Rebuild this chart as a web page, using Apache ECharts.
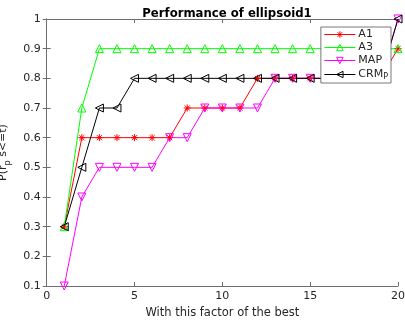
<!DOCTYPE html>
<html><head><meta charset="utf-8">
<script src="https://cdn.jsdelivr.net/npm/echarts@6/dist/echarts.min.js"></script>
<style>html,body{margin:0;padding:0;background:#fff}#c{width:405px;height:324px}</style>
</head><body><div id="c"></div>
<script>
const xs = [1,2,3,4,5,6,7,8,9,10,11,12,13,14,15,16,17,18,19,20];
const A1  = [0.3,0.6,0.6,0.6,0.6,0.6,0.6,0.7,0.7,0.7,0.7,0.8,0.8,0.8,0.8,0.8,0.8,0.8,0.8,0.9];
const A3  = [0.3,0.7,0.9,0.9,0.9,0.9,0.9,0.9,0.9,0.9,0.9,0.9,0.9,0.9,0.9,0.9,0.9,0.9,0.9,0.9];
const MAP = [0.1,0.4,0.5,0.5,0.5,0.5,0.6,0.6,0.7,0.7,0.7,0.7,0.8,0.8,0.8,0.8,0.8,0.8,0.8,1.0];
const CRM = [0.3,0.5,0.7,0.7,0.8,0.8,0.8,0.8,0.8,0.8,0.8,0.8,0.8,0.8,0.8,0.8,0.8,0.8,0.8,1.0];
const xTicks = [0,5,10,15,20];
const yTicks = [0.1,0.2,0.3,0.4,0.5,0.6,0.7,0.8,0.9,1];
const seriesNames = ['A1','A3','MAP','CRM_p'];

const font = 'DejaVu Sans';
const axisCol = '#6e6e6e';
const txtCol = '#262626';
const pair = arr => xs.map((x,i)=>[x,arr[i]]);
const star = 'path://M0,-1L0,1M-1,0L1,0M-0.72,-0.72L0.72,0.72M-0.72,0.72L0.72,-0.72';
const colors = {A1:'#ff0000', A3:'#00ff00', MAP:'#ff00ff', CRM_p:'#000000'};
const syms = {A1:[star,0,7], A3:['triangle',0,8], MAP:['triangle',180,8], CRM_p:['triangle',90,8]};

function mk(name, arr) {
  const color = colors[name], s = syms[name];
  return {
    name, type:'line', data: pair(arr), symbol: s[0], symbolRotate: s[1], symbolSize: s[2],
    showAllSymbol: true,
    lineStyle:{color, width:1}, itemStyle:{color: s[0]===star ? color : 'rgba(255,255,255,0)', borderColor: color, borderWidth: 1},
    emphasis:{disabled:true}, animation:false
  };
}
const baseAxis = {
  axisLine:{show:true, lineStyle:{color:axisCol, width:1}},
  axisTick:{show:true, inside:true, length:4, lineStyle:{color:axisCol}},
  splitLine:{show:false},
};
const chart = echarts.init(document.getElementById('c'), null, {renderer:'canvas'});
chart.setOption({
  backgroundColor:'#fff',
  animation:false,
  title:{text:'Performance of ellipsoid1', left:222, textAlign:'center', top:3,
    textStyle:{fontFamily:font, fontSize:11.7, fontWeight:'bold', color:'#000'}},
  grid:{left:46.7, right:7, top:19, bottom:38, containLabel:false, outerBoundsMode:'none'},
  xAxis:[
    Object.assign({}, baseAxis, {type:'value', min:xTicks[0], max:xTicks[xTicks.length-1], interval:5,
      name:'With this factor of the best', nameLocation:'middle', nameGap:19,
      nameTextStyle:{fontFamily:font, fontSize:11.5, color:txtCol},
      axisLabel:{fontFamily:font, fontSize:11, color:txtCol, margin:5}}),
    Object.assign({}, baseAxis, {type:'value', position:'top', min:0, max:20, interval:5, axisLabel:{show:false}})
  ],
  yAxis:[
    Object.assign({}, baseAxis, {type:'value', min:yTicks[0], max:yTicks[yTicks.length-1], interval:0.1,
      name:'{n|P(r}{s|p}{n| s<=t)}', nameLocation:'middle', nameGap:27,
      nameTextStyle:{fontFamily:font, fontSize:11, color:txtCol,
        rich:{n:{fontFamily:font, fontSize:11, color:txtCol, verticalAlign:'top', lineHeight:13},
              s:{fontFamily:font, fontSize:8, color:txtCol, padding:[7,0,0,0], verticalAlign:'top', lineHeight:13}}},
      axisLabel:{fontFamily:font, fontSize:11, color:txtCol, margin:6, formatter: v => String(Math.round(v*10)/10)}}),
    Object.assign({}, baseAxis, {type:'value', position:'right', min:0.1, max:1, interval:0.1, axisLabel:{show:false}})
  ],
  legend:{
    orient:'vertical', right:14, top:27,
    data: seriesNames.map(n => ({name:n,
      itemStyle:{color: n==='A1' ? colors[n] : 'rgba(255,255,255,0)', borderColor: colors[n], borderWidth:1}})),
    itemWidth:31, itemHeight:8, itemGap:2,
    lineStyle:{width:1},
    backgroundColor:'#fff', borderColor:'#555', borderWidth:0.8, borderRadius:0,
    padding:[2,3,2,3],
    formatter: n => n==='CRM_p' ? '{a|CRM}{b|P}' : '{a|'+n+'}',
    textStyle:{fontFamily:font, fontSize:11, color:txtCol, padding:[0,0,0,-2],
      rich:{a:{fontFamily:font, fontSize:11, color:txtCol, lineHeight:12},
            b:{fontFamily:font, fontSize:8, color:txtCol, padding:[5,0,0,0], lineHeight:12}}}
  },
  series: [mk('A1', A1), mk('A3', A3), mk('MAP', MAP), mk('CRM_p', CRM)]
});
</script></body></html>
